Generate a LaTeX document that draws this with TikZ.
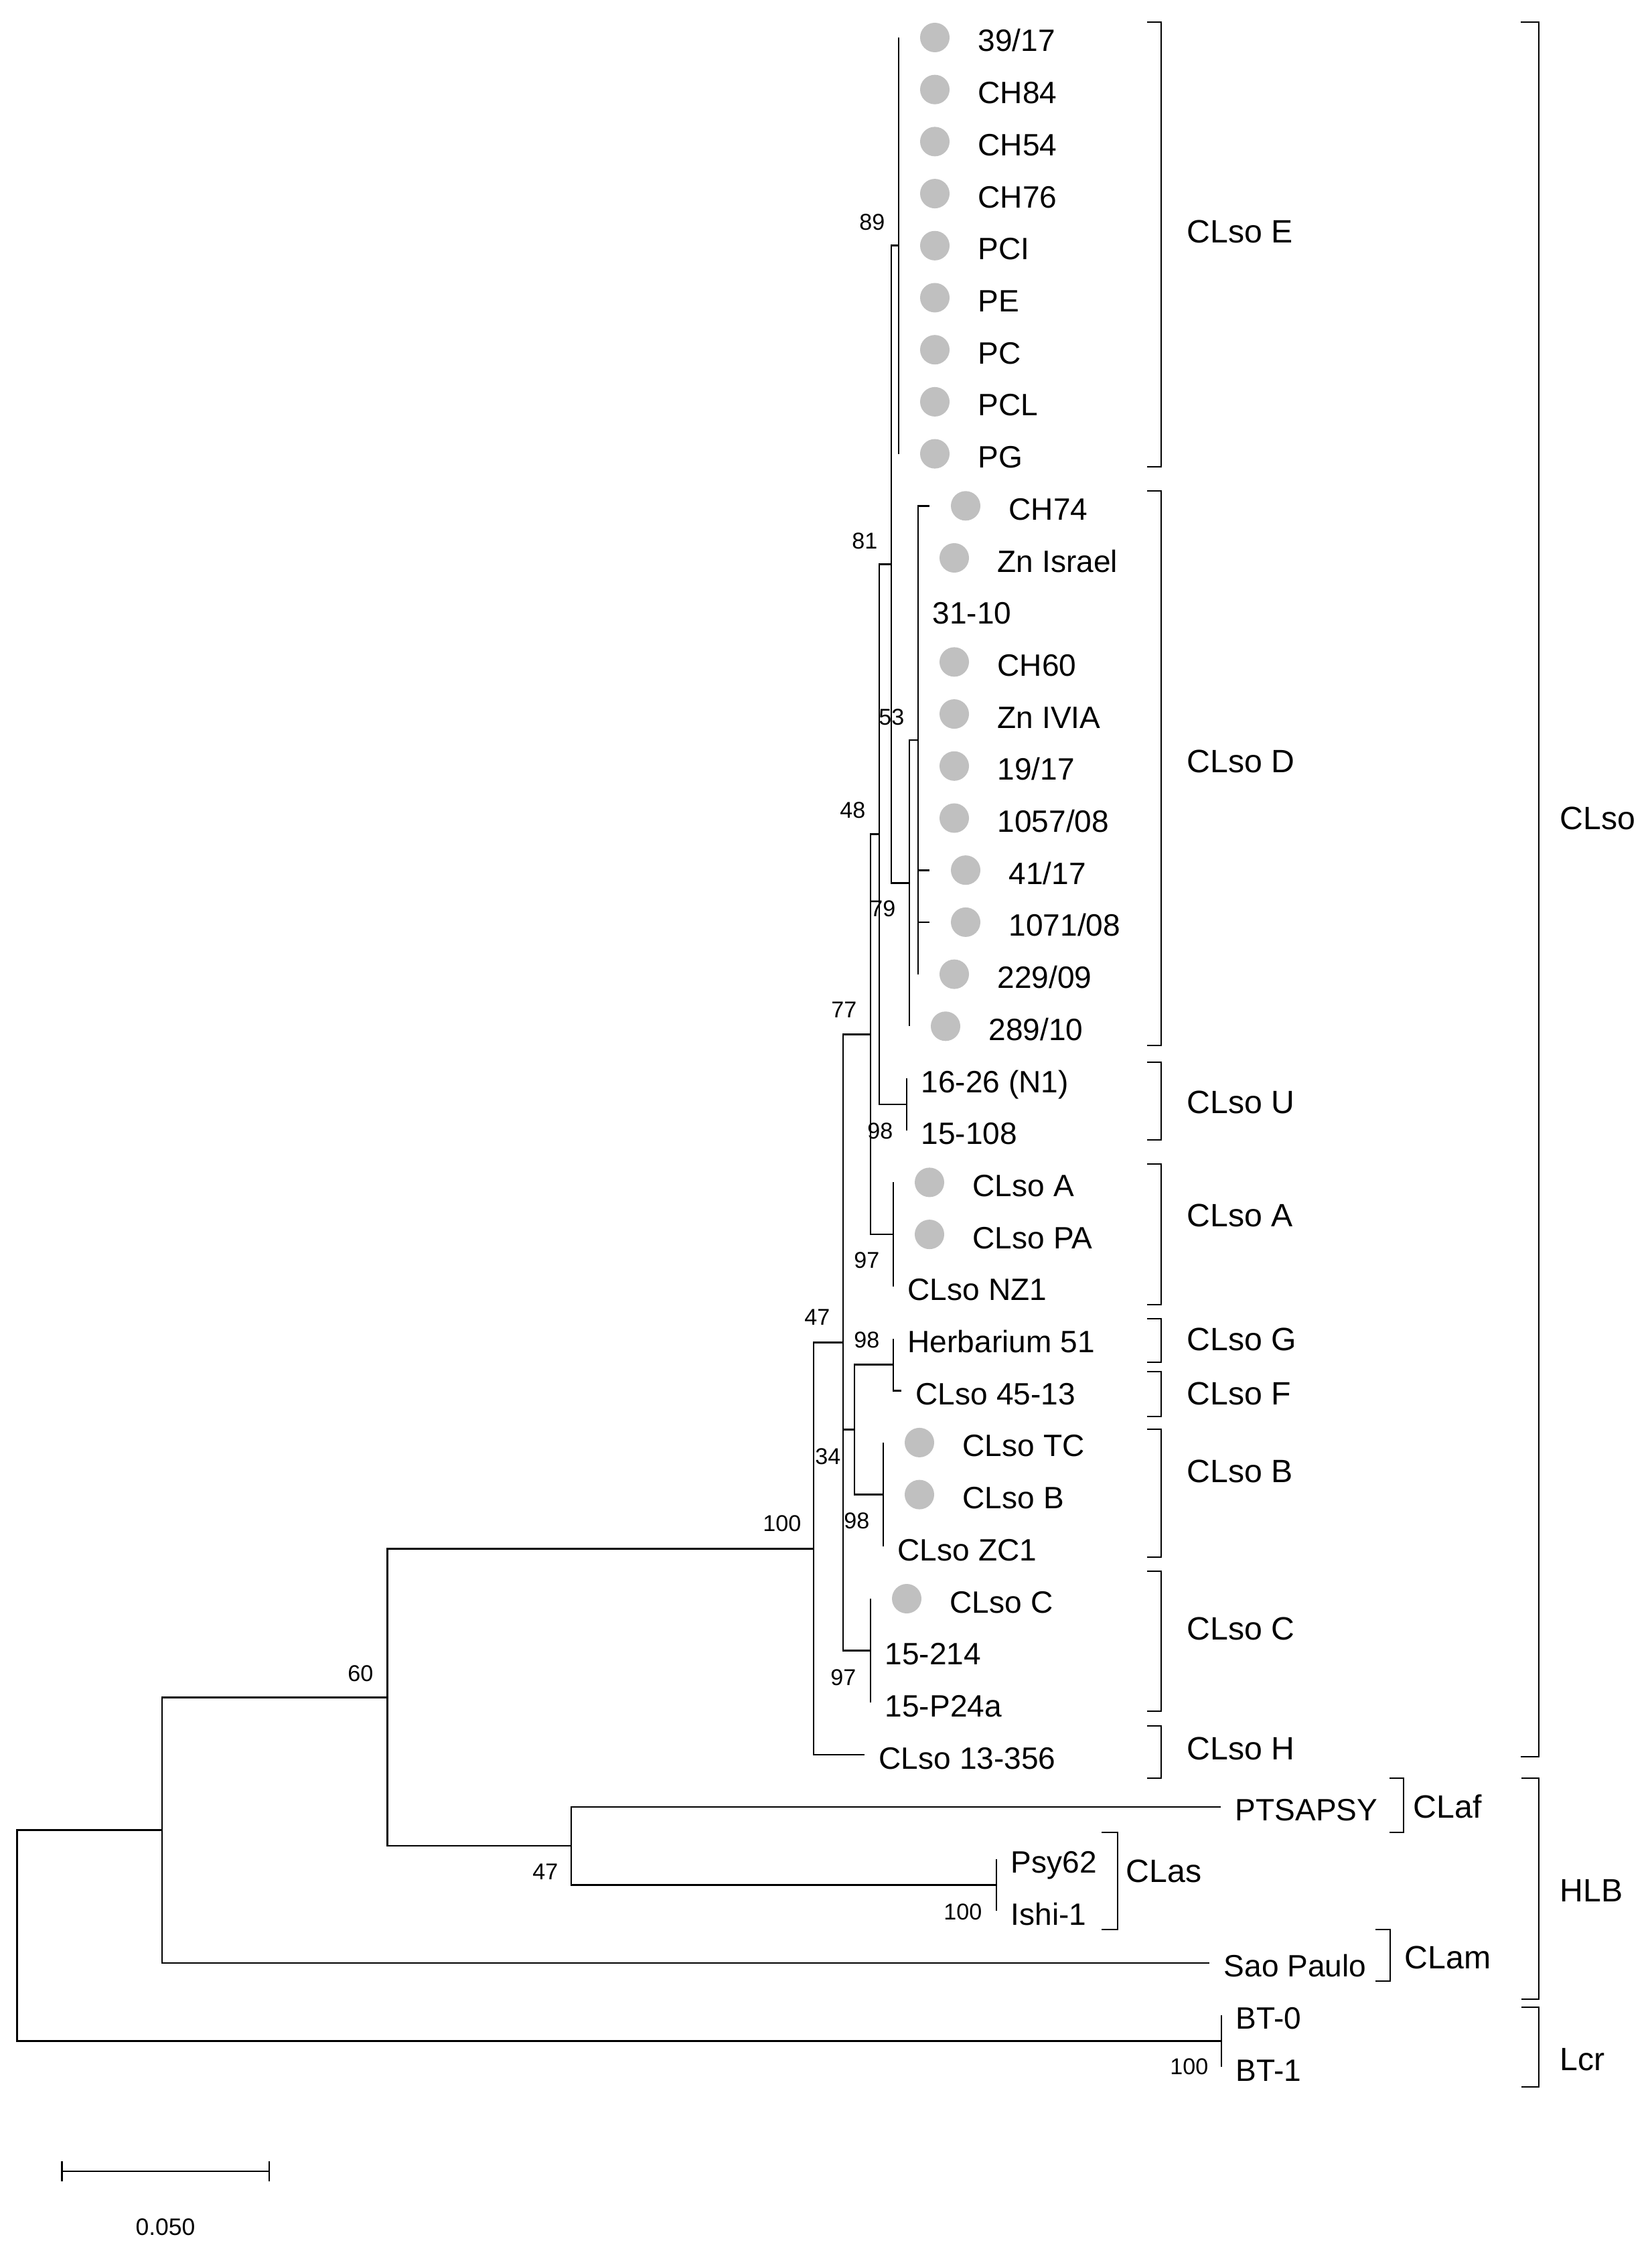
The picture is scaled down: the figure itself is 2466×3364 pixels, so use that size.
\documentclass[tikz,border=0pt]{standalone}
\usepackage{fontspec}
\setmainfont{Liberation Sans}
\definecolor{dotgray}{RGB}{192,192,192}
\tikzset{
  branch/.style={line width=0.75pt},
  brk/.style={line width=0.75pt},
  leaflab/.style={anchor=base west, inner sep=0pt, font=\fontsize{13.1}{15}\selectfont},
  cladelab/.style={anchor=base west, inner sep=0pt, font=\fontsize{13.7}{16}\selectfont},
  bs/.style={anchor=east, inner sep=0pt, font=\fontsize{9.7}{11}\selectfont},
  dotmark/.style={circle, fill=dotgray, draw=none, minimum size=0.44cm, inner sep=0pt}
}
\newcommand{\leafdot}[4]{%
  \coordinate (#1) at (#2,#3);
  \node[dotmark] (#1d) at ({#2+54},#3) {};
  \node[leaflab] (#1t) at ({#2+118},{#3+21}) {#4};
}
\newcommand{\leafplain}[4]{%
  \coordinate (#1) at (#2,#3);
  \node[leaflab] (#1t) at ({#2+21},{#3+21}) {#4};
}
\newcommand{\bracketR}[4]{% x1, x2, ytop, ybot
  \draw[brk] (#1,#3) -- (#2,#3) -- (#2,#4) -- (#1,#4);
}
\begin{document}
\begin{tikzpicture}[x=0.01cm, y=-0.01cm]
\useasboundingbox (0,0) rectangle (2466,3364);
% leaves
\leafdot{l0}{1342}{56}{39/17}
\leafdot{l1}{1342}{133.7}{CH84}
\leafdot{l2}{1342}{211.4}{CH54}
\leafdot{l3}{1342}{289.1}{CH76}
\leafdot{l4}{1342}{366.8}{PCI}
\leafdot{l5}{1342}{444.5}{PE}
\leafdot{l6}{1342}{522.2}{PC}
\leafdot{l7}{1342}{599.9}{PCL}
\leafdot{l8}{1342}{677.6}{PG}
\leafdot{l9}{1388}{755.3}{CH74}
\leafdot{l10}{1371}{833}{Zn Israel}
\leafplain{l11}{1371}{910.7}{31-10}
\leafdot{l12}{1371}{988.4}{CH60}
\leafdot{l13}{1371}{1066.1}{Zn IVIA}
\leafdot{l14}{1371}{1143.8}{19/17}
\leafdot{l15}{1371}{1221.5}{1057/08}
\leafdot{l16}{1388}{1299.2}{41/17}
\leafdot{l17}{1388}{1376.9}{1071/08}
\leafdot{l18}{1371}{1454.6}{229/09}
\leafdot{l19}{1358}{1532.3}{289/10}
\leafplain{l20}{1354}{1610}{16-26 (N1)}
\leafplain{l21}{1354}{1687.7}{15-108}
\leafdot{l22}{1334}{1765.4}{CLso A}
\leafdot{l23}{1334}{1843.1}{CLso PA}
\leafplain{l24}{1334}{1920.8}{CLso NZ1}
\leafplain{l25}{1334}{1998.5}{Herbarium 51}
\leafplain{l26}{1346}{2076.2}{CLso 45-13}
\leafdot{l27}{1319}{2153.9}{CLso TC}
\leafdot{l28}{1319}{2231.6}{CLso B}
\leafplain{l29}{1319}{2309.3}{CLso ZC1}
\leafdot{l30}{1300}{2387}{CLso C}
\leafplain{l31}{1300}{2464.7}{15-214}
\leafplain{l32}{1300}{2542.4}{15-P24a}
\leafplain{l33}{1291}{2620.1}{CLso 13-356}
\leafplain{l34}{1823}{2697.8}{PTSAPSY}
\leafplain{l35}{1488}{2775.5}{Psy62}
\leafplain{l36}{1488}{2853.2}{Ishi-1}
\leafplain{l37}{1806}{2930.9}{Sao Paulo}
\leafplain{l38}{1824}{3008.6}{BT-0}
\leafplain{l39}{1824}{3086.3}{BT-1}
% internal nodes
\coordinate (nE) at (1342,366.8);
\coordinate (nDin) at (1371,1105);
\coordinate (nD) at (1358,1318.6);
\coordinate (n81) at (1331,842.7);
\coordinate (nU) at (1354,1648.9);
\coordinate (n48) at (1313,1245.8);
\coordinate (nA) at (1334,1843.1);
\coordinate (n77) at (1300,1544.5);
\coordinate (nGF) at (1334,2037.4);
\coordinate (nB) at (1319,2231.6);
\coordinate (n34) at (1276,2134.5);
\coordinate (nC) at (1300,2464.7);
\coordinate (n47) at (1259,2004.6);
\coordinate (n100) at (1215,2312.4);
\coordinate (nCLas) at (1488,2814.4);
\coordinate (nHLB) at (853,2756.1);
\coordinate (n60) at (578.5,2534.2);
\coordinate (n242) at (242,2732.6);
\coordinate (nLcr) at (1824,3047.5);
\coordinate (root) at (25.5,2890);
% branches
\foreach \p/\c in {root/n242, root/nLcr, n242/n60, n242/l37, n60/n100, n60/nHLB,
  nHLB/l34, nHLB/nCLas, nCLas/l35, nCLas/l36, nLcr/l38, nLcr/l39,
  n100/n47, n100/l33, n47/n77, n47/n34, n47/nC, n77/n48, n77/nA,
  n48/n81, n48/nU, n81/nE, n81/nD, nD/nDin, nD/l19,
  nE/l0, nE/l1, nE/l2, nE/l3, nE/l4, nE/l5, nE/l6, nE/l7, nE/l8,
  nDin/l9, nDin/l10, nDin/l11, nDin/l12, nDin/l13, nDin/l14, nDin/l15, nDin/l16, nDin/l17, nDin/l18,
  nU/l20, nU/l21, nA/l22, nA/l23, nA/l24, n34/nGF, n34/nB, nGF/l25, nGF/l26,
  nB/l27, nB/l28, nB/l29, nC/l30, nC/l31, nC/l32}
  \draw[branch] (\p) |- (\c);
% bootstrap values
\node[bs] (b89) at (1322,332) {89};
\node[bs] (b81) at (1311,808) {81};
\node[bs] (b53) at (1351,1071) {53};
\node[bs] (b48) at (1293,1210) {48};
\node[bs] (b79) at (1338,1357) {79};
\node[bs] (b77) at (1280,1508) {77};
\node[bs] (b98u) at (1334,1689) {98};
\node[bs] (b97a) at (1314,1882) {97};
\node[bs] (b47) at (1240,1967) {47};
\node[bs] (b98g) at (1314,2001) {98};
\node[bs] (b34) at (1256,2175) {34};
\node[bs] (b98b) at (1299,2271) {98};
\node[bs] (b100) at (1197,2275) {100};
\node[bs] (b97c) at (1279,2505) {97};
\node[bs] (b60) at (558,2499) {60};
\node[bs] (b47h) at (834,2795) {47};
\node[bs] (b100a) at (1467,2855) {100};
\node[bs] (b100l) at (1805,3086) {100};
% brackets
\bracketR{1713}{1734}{33}{697}
\bracketR{1713}{1734}{733}{1561}
\bracketR{1713}{1734}{1586}{1702}
\bracketR{1713}{1734}{1738}{1948}
\bracketR{1713}{1734}{1969}{2034}
\bracketR{1713}{1734}{2048}{2115}
\bracketR{1713}{1734}{2134}{2325}
\bracketR{1713}{1734}{2346}{2555}
\bracketR{1713}{1734}{2577}{2655}
\bracketR{2271}{2298}{33}{2623}
\bracketR{2075}{2096}{2655}{2736}
\bracketR{1645}{1669}{2736}{2881}
\bracketR{2054}{2076}{2881}{2958}
\bracketR{2272}{2298}{2655}{2985}
\bracketR{2272}{2298}{2997}{3116}
% clade labels
\node[cladelab] (cE) at (1772,363) {CLso E};
\node[cladelab] (cD) at (1772,1153) {CLso D};
\node[cladelab] (cU) at (1772,1662) {CLso U};
\node[cladelab] (cA) at (1772,1831) {CLso A};
\node[cladelab] (cG) at (1772,2016) {CLso G};
\node[cladelab] (cF) at (1772,2097) {CLso F};
\node[cladelab] (cB) at (1772,2213) {CLso B};
\node[cladelab] (cC) at (1772,2448) {CLso C};
\node[cladelab] (cH) at (1772,2627) {CLso H};
\node[cladelab] (cCLso) at (2329,1238) {CLso};
\node[cladelab] (cCLaf) at (2110,2714) {CLaf};
\node[cladelab] (cCLas) at (1681,2810) {CLas};
\node[cladelab] (cCLam) at (2097,2939) {CLam};
\node[cladelab] (cHLB) at (2329,2839) {HLB};
\node[cladelab] (cLcr) at (2329,3091) {Lcr};
% scale bar
\coordinate (sb1) at (92.5,3242);
\coordinate (sb2) at (402,3242);
\draw[branch] (sb1) -- (sb2);
\draw[branch] ([yshift=0.15cm]sb1) -- ([yshift=-0.15cm]sb1);
\draw[branch] ([yshift=0.15cm]sb2) -- ([yshift=-0.15cm]sb2);
\node[inner sep=0pt, font=\fontsize{10.1}{12}\selectfont] (sblab) at (247,3325) {0.050};
\end{tikzpicture}
\end{document}
